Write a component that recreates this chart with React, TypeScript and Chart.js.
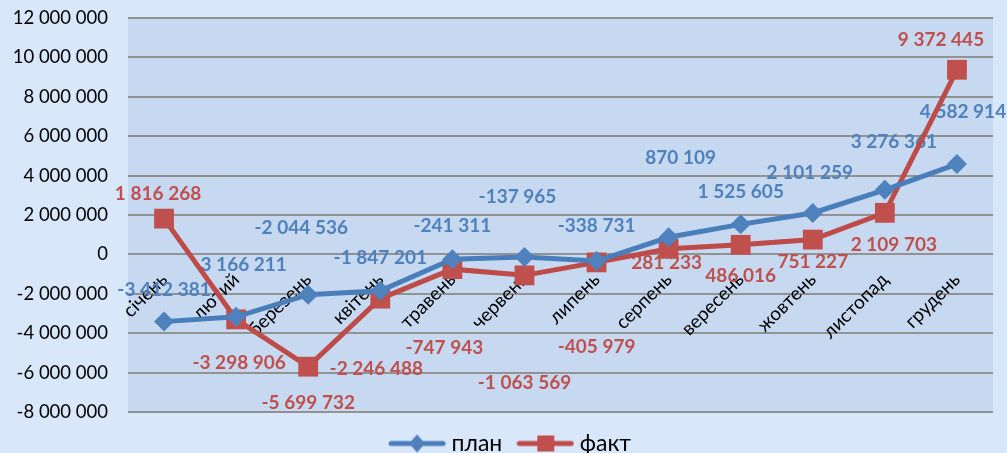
import React, { useEffect, useRef } from 'react';
import { Chart, registerables } from 'chart.js';

Chart.register(...registerables);

// ---- data ----
const months = ['січень', 'лютий', 'березень', 'квітень', 'травень', 'червень', 'липень', 'серпень', 'вересень', 'жовтень', 'листопад', 'грудень'];
const planValues = [-3412381, -3166211, -2044536, -1847201, -241311, -137965, -338731, 870109, 1525605, 2101259, 3276361, 4582914];
const factValues = [1816268, -3298906, -5699732, -2246488, -747943, -1063569, -405979, 281233, 486016, 751227, 2109703, 9372445];
const seriesNames = ['план', 'факт'];
const yMin = -8000000;
const yMax = 12000000;
const yStep = 2000000;

// label nudges (pixels, relative to each point) mimicking the manually placed labels
const planLabelNudge = [[0, -32], [4, -52], [-7, -67], [0, -33], [0, -33], [-7, -60], [0, -35], [12, -79], [0, -32], [-3, -40], [9, -48], [6, -52]];
const factLabelNudge = [[-6, -25], [3, 43], [0, 36], [-4, 70], [-8, 79], [0, 108], [0, 84], [-2, 14], [0, 31], [0, 22], [9, 32], [-16, -30]];

const BLUE_LINE = '#4a7ebb';
const BLUE_MARK = '#4f81bd';
const BLUE_TEXT = '#4f81bd';
const RED_LINE = '#be4b48';
const RED_MARK = '#c0504d';
const RED_TEXT = '#c0504d';
const OUTER_BG = '#d8e7fa';
const PLOT_BG = '#c6d9f1';
const FONT = 'Lato, "Open Sans", sans-serif';

const fmt = (v: number) => {
  const s = Math.abs(Math.round(v)).toString().replace(/\B(?=(\d{3})+(?!\d))/g, ' ');
  return (v < 0 ? '-' : '') + s;
};

function makeLegendIcon(kind: 'diamond' | 'square', lineColor: string, markColor: string) {
  const c = document.createElement('canvas');
  c.width = 58;
  c.height = 20;
  const g = c.getContext('2d')!;
  g.strokeStyle = lineColor;
  g.lineWidth = 5;
  g.lineCap = 'round';
  g.beginPath();
  g.moveTo(3, 10);
  g.lineTo(55, 10);
  g.stroke();
  g.fillStyle = markColor;
  g.beginPath();
  if (kind === 'diamond') {
    g.moveTo(29, 1);
    g.lineTo(37, 10);
    g.lineTo(29, 19);
    g.lineTo(21, 10);
    g.closePath();
  } else {
    g.rect(21, 2, 17, 16);
  }
  g.fill();
  return c;
}

const bgPlugin = {
  id: 'bgPlugin',
  afterLayout(chart: any) {
    // legend row sits a little right of the canvas centre in the reference
    const leg = chart.legend;
    if (leg) {
      leg.left += 30;
      leg.right += 0;
    }
  },
  beforeDraw(chart: any) {
    const { ctx, width, height, chartArea } = chart;
    ctx.save();
    ctx.fillStyle = OUTER_BG;
    ctx.fillRect(0, 0, width, height);
    ctx.fillStyle = PLOT_BG;
    ctx.fillRect(chartArea.left, chartArea.top, chartArea.right - chartArea.left, chartArea.bottom - chartArea.top);
    ctx.restore();
  },
};

const valueLabelPlugin = {
  id: 'valueLabels',
  beforeDatasetsDraw(chart: any) {
    const ctx = chart.ctx;
    const nudges = [planLabelNudge, factLabelNudge];
    const colors = [BLUE_TEXT, RED_TEXT];
    chart.data.datasets.forEach((ds: any, di: number) => {
      const meta = chart.getDatasetMeta(di);
      meta.data.forEach((pt: any, i: number) => {
        const [dx, dy] = nudges[di][i];
        ctx.save();
        ctx.font = `bold 19px ${FONT}`;
        ctx.fillStyle = colors[di];
        ctx.textAlign = 'center';
        ctx.textBaseline = 'middle';
        ctx.fillText(fmt(ds.data[i]), pt.x + dx, pt.y + dy);
        ctx.restore();
      });
    });
  },
};

export default function App() {
  const ref = useRef<HTMLCanvasElement>(null);

  useEffect(() => {
    document.body.style.margin = '0';
    const icons = [
      makeLegendIcon('diamond', BLUE_LINE, BLUE_MARK),
      makeLegendIcon('square', RED_LINE, RED_MARK),
    ];
    const chart = new Chart(ref.current!, {
      type: 'line',
      data: {
        labels: months,
        datasets: [
          {
            label: seriesNames[0],
            data: planValues,
            borderColor: BLUE_LINE,
            borderWidth: 5,
            backgroundColor: BLUE_MARK,
            pointStyle: 'rectRot',
            pointRadius: 10,
            pointBorderWidth: 0,
            pointBackgroundColor: BLUE_MARK,
            pointBorderColor: BLUE_MARK,
            tension: 0,
          },
          {
            label: seriesNames[1],
            data: factValues,
            borderColor: RED_LINE,
            borderWidth: 5,
            backgroundColor: RED_MARK,
            pointStyle: 'rect',
            pointRadius: 14,
            pointBorderWidth: 0,
            pointBackgroundColor: RED_MARK,
            pointBorderColor: RED_MARK,
            tension: 0,
          },
        ],
      },
      options: {
        animation: false,
        responsive: false,
        devicePixelRatio: 1,
        layout: { padding: { left: 0, right: 12, top: 18, bottom: -12 } },
        plugins: {
          tooltip: { enabled: false },
          legend: {
            display: true,
            position: 'bottom',
            labels: {
              usePointStyle: true,
              pointStyleWidth: 46,
              padding: 20,
              color: '#000',
              font: { family: FONT, size: 23 },
              generateLabels: () =>
                seriesNames.map((name, i) => ({
                  text: name,
                  pointStyle: icons[i] as any,
                  fillStyle: i === 0 ? BLUE_MARK : RED_MARK,
                  strokeStyle: i === 0 ? BLUE_LINE : RED_LINE,
                  lineWidth: 0,
                  hidden: false,
                  datasetIndex: i,
                  fontColor: '#000',
                })),
            },
          },
        },
        scales: {
          x: {
            type: 'category',
            position: { y: 0 } as any,
            offset: true,
            grid: { display: false, drawTicks: false },
            border: { display: false },
            ticks: {
              autoSkip: false,
              minRotation: 45,
              maxRotation: 45,
              padding: 14,
              color: '#000',
              font: { family: FONT, size: 19 },
            },
          },
          y: {
            min: yMin,
            max: yMax,
            afterFit: (scale: any) => {
              scale.width = 128;
            },
            grid: { color: '#929292', lineWidth: 2, drawTicks: true, tickLength: 20, tickColor: 'rgba(0,0,0,0)' },
            border: { display: false },
            ticks: {
              stepSize: yStep,
              padding: 0,
              color: '#000',
              font: { family: FONT, size: 18.5 },
              callback: (v: any) => fmt(Number(v)),
            },
          },
        },
      },
      plugins: [bgPlugin, valueLabelPlugin],
    });
    return () => chart.destroy();
  }, []);

  return (
    <div style={{ width: 1007, height: 453, position: 'relative' }}>
      <canvas ref={ref} width={1007} height={453} style={{ display: 'block' }} />
    </div>
  );
}
